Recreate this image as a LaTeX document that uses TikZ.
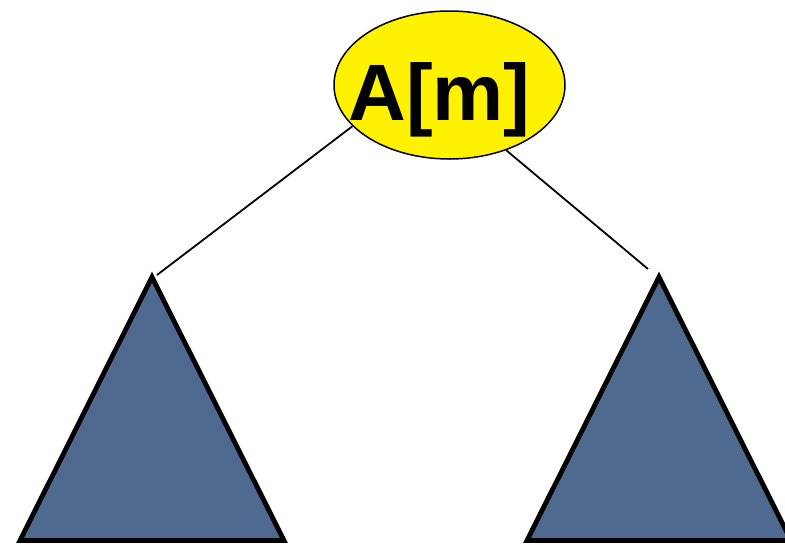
\documentclass[tikz,border=0pt]{standalone}
\usepackage{fontspec}
\setmainfont{Liberation Sans}
\usetikzlibrary{shapes.geometric}
\definecolor{slate}{RGB}{79,106,144}
\tikzset{
  keynode/.style={ellipse, draw, line width=1.5pt, fill=yellow,
    minimum width=231pt, minimum height=148pt, inner sep=0pt},
  keytext/.style={font=\bfseries\fontsize{80}{96}\selectfont, inner sep=0pt},
  subtree/.style={draw, line width=4.8pt, fill=slate},
  edge/.style={line width=1.8pt}
}
\begin{document}
\begin{tikzpicture}[x=1pt,y=-1pt]
  \clip (0,0) rectangle (785,544);
  % root key
  \node[keynode] (root) at (449.5,85) {};
  \node[keytext, anchor=base] (rootlabel) at (439.5,120) {A[m]};
  % left and right subtrees
  \draw[subtree] (152,277) -- (20,540.5) -- (284,540.5) -- cycle;
  \draw[subtree] (659,277) -- (527,540.5) -- (791,540.5) -- cycle;
  \coordinate (ltop) at (157,275);
  \coordinate (rtop) at (648,269);
  \draw[edge] (root.203) -- (ltop);
  \draw[edge] (root.311) -- (rtop);
\end{tikzpicture}
\end{document}
